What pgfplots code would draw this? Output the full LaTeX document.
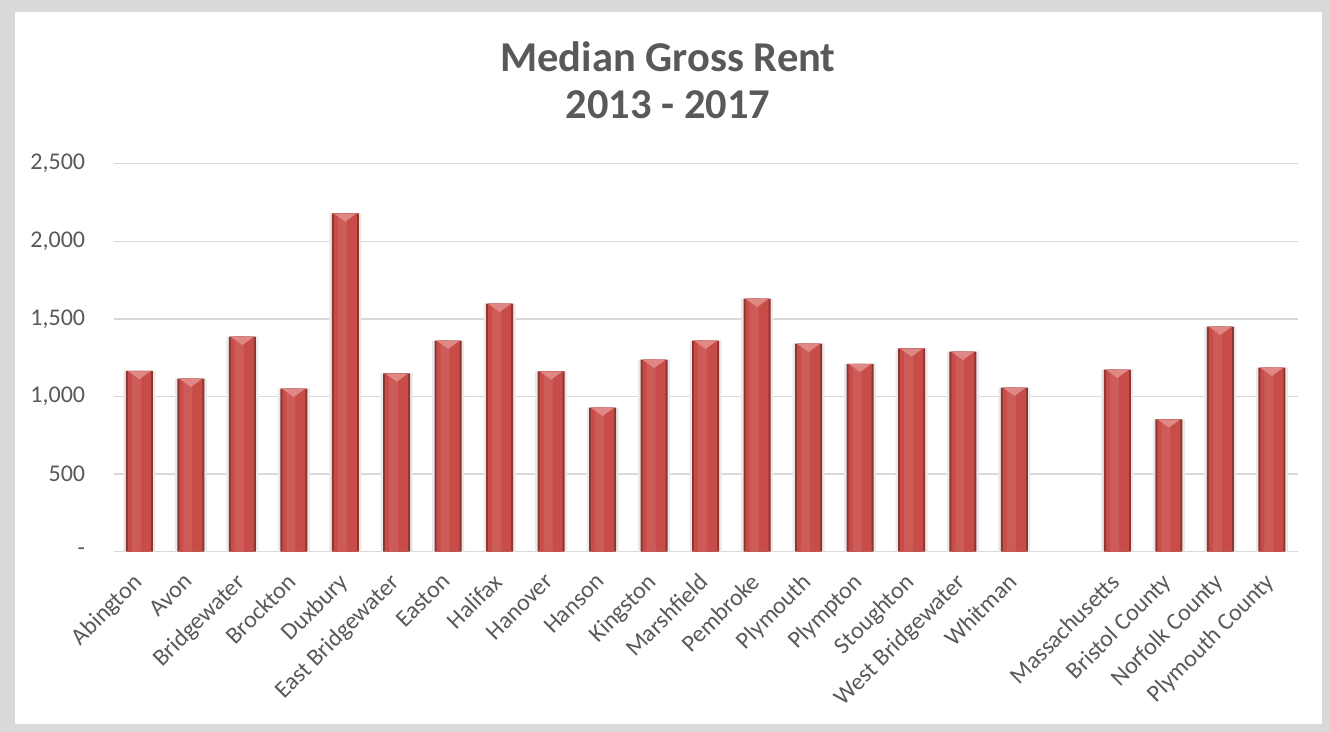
\documentclass[border=0pt]{standalone}
\usepackage{pgfplots}
\usepackage{pgfplotstable}
\pgfplotsset{compat=1.18}
\usepackage{fontspec}
\setmainfont{Carlito}
\definecolor{txt}{HTML}{595959}
\definecolor{framegray}{HTML}{D9D9D9}
\definecolor{gridgray}{HTML}{D9D9D9}
\definecolor{glow}{HTML}{E9E9E9}
\definecolor{barEdge}{HTML}{8E3532}
\definecolor{barBody}{HTML}{C84C48}
\definecolor{barHi}{HTML}{CD5C58}
\definecolor{bevel}{HTML}{E08886}
\pgfplotstableread{
x y
0 1165
1 1115
2 1385
3 1050
4 2180
5 1149
6 1360
7 1598
8 1162
9 928
10 1237
11 1360
12 1630
13 1340
14 1211
15 1310
16 1289
17 1057
19 1173
20 853
21 1450
22 1186
}\rent
\begin{document}
\begin{tikzpicture}
\useasboundingbox (0,0) rectangle (1330bp,732bp);
\fill[framegray] (0,0) rectangle (1330bp,732bp);
\fill[white] (15bp,8bp) rectangle (1322bp,720bp);
\node[text=txt,font=\fontsize{42.5bp}{50bp}\selectfont\bfseries] at (668bp,675bp) {Median Gross Rent};
\node[text=txt,font=\fontsize{42.5bp}{50bp}\selectfont\bfseries] at (668bp,627bp) {2013 - 2017};
\begin{axis}[
  at={(113.6bp,180.3bp)}, anchor=south west,
  scale only axis, width=1184bp, height=388bp,
  xmin=-0.5, xmax=22.5, ymin=0, ymax=2500,
  axis line style={draw=none},
  ytick={0,500,1000,1500,2000,2500},
  yticklabels={{-\hspace{11bp}},500,{1,000},{1,500},{2,000},{2,500}},
  xtick={0,1,2,3,4,5,6,7,8,9,10,11,12,13,14,15,16,17,19,20,21,22},
  xticklabels={Abington,Avon,Bridgewater,Brockton,Duxbury,East Bridgewater,Easton,Halifax,Hanover,Hanson,Kingston,Marshfield,Pembroke,Plymouth,Plympton,Stoughton,West Bridgewater,Whitman,Massachusetts,Bristol County,Norfolk County,Plymouth County},
  major tick length=0pt,
  ymajorgrids, grid style={gridgray, line width=1.5bp},
  tick label style={text=txt, font=\fontsize{24bp}{28bp}\selectfont},
  yticklabel style={xshift=-25bp},
  xticklabel style={xshift=-8bp, yshift=-20bp, rotate=45, anchor=north east, inner sep=0pt},
  clip=false,
]
\draw[gridgray, line width=1.5bp] (axis cs:-0.5,0) -- (axis cs:22.5,0);
\addplot[ybar, bar shift=0pt, bar width=32bp, fill=glow, draw=none] table[x=x,y=y] {\rent};
\addplot[ybar, bar shift=0pt, bar width=27bp, fill=barEdge, draw=none] table[x=x,y=y] {\rent};
\addplot[ybar, bar shift=0pt, bar width=23bp, fill=barBody, draw=none] table[x=x,y=y] {\rent};
\addplot[ybar, bar shift=-3bp, bar width=9bp, fill=barHi, draw=none] table[x=x,y=y] {\rent};
\addplot[only marks, color=bevel, mark=triangle*, mark size=12bp, mark options={yshift=-3bp, rotate=180, yscale=0.42, fill=bevel, draw=none}] table[x=x,y=y] {\rent};
\end{axis}
\end{tikzpicture}
\end{document}
